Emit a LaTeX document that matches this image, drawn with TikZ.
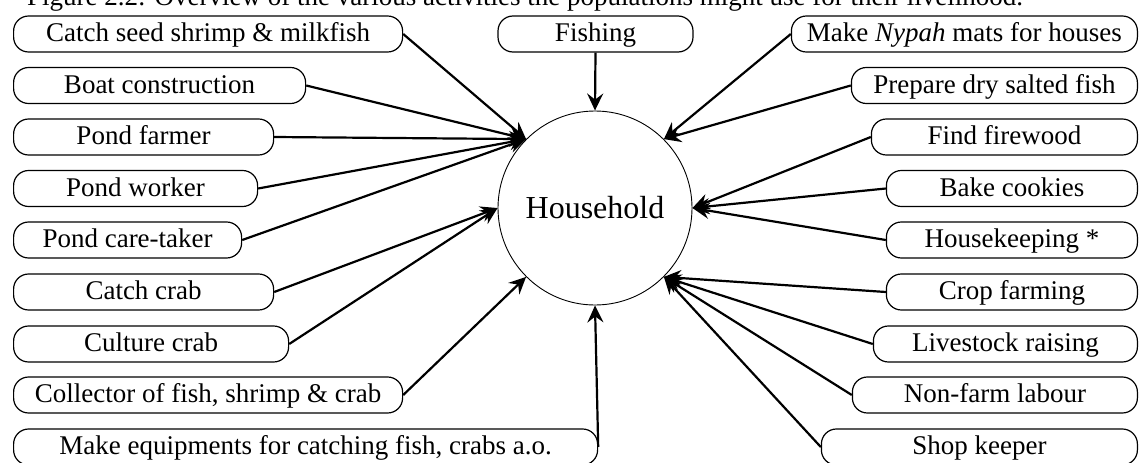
\documentclass[tikz,border=0pt]{standalone}
\usepackage{fontspec}
\setmainfont{Liberation Serif}
\usetikzlibrary{arrows.meta}

\begin{document}
\begin{tikzpicture}[x=1pt,y=-1pt,
    act/.style={draw, line width=1.2pt, rounded corners=15pt, minimum height=36pt,
        inner sep=0pt, text height=21pt, text depth=6pt,
        font=\fontsize{27pt}{32pt}\selectfont},
    feed/.style={-{Stealth[length=17pt,width=16pt,inset=6pt]}, line width=2.2pt}]
    \useasboundingbox (0,0) rectangle (1141,463);

    % caption, cut off by the top of the page
    \node[anchor=base west, inner sep=0pt, font=\fontsize{27pt}{32pt}\selectfont] (caption) at (27,5.5)
        {Figure 2.2: Overview of the various activities the populations might use for their livelihood.};

    \node[draw, circle, line width=0.9pt, minimum size=194pt, inner sep=0pt,
        font=\fontsize{32pt}{38pt}\selectfont] (hh) at (595,208) {Household};

    % left column
    \node[act, anchor=west, minimum width=389pt] (seed) at (13,34) {Catch seed shrimp \& milkfish};
    \node[act, anchor=west, minimum width=292pt] (boat) at (13,85.5) {Boat construction};
    \node[act, anchor=west, minimum width=260pt] (farmer) at (13,137) {Pond farmer};
    \node[act, anchor=west, minimum width=244pt] (worker) at (13,188.5) {Pond worker};
    \node[act, anchor=west, minimum width=228pt] (caretaker) at (13,240) {Pond care-taker};
    \node[act, anchor=west, minimum width=260pt] (catchcrab) at (13,292) {Catch crab};
    \node[act, anchor=west, minimum width=275pt] (culturecrab) at (13,344) {Culture crab};
    \node[act, anchor=west, minimum width=389pt] (collector) at (13,395) {Collector of fish, shrimp \& crab};
    \node[act, anchor=west, minimum width=584pt] (equip) at (13,447) {Make equipments for catching fish, crabs a.o.};

    % top
    \node[act, minimum width=195pt] (fishing) at (595.5,34) {Fishing};

    % right column
    \node[act, anchor=east, minimum width=346pt] (nypah) at (1138,34) {Make \textit{Nypah} mats for houses};
    \node[act, anchor=east, minimum width=286pt] (dryfish) at (1138,85.5) {Prepare dry salted fish};
    \node[act, anchor=east, minimum width=266pt] (firewood) at (1138,137) {Find firewood};
    \node[act, anchor=east, minimum width=251pt] (cookies) at (1138,188.5) {Bake cookies};
    \node[act, anchor=east, minimum width=251pt] (housekeep) at (1138,240) {Housekeeping *};
    \node[act, anchor=east, minimum width=251pt] (crop) at (1138,292) {Crop farming};
    \node[act, anchor=east, minimum width=264pt] (livestock) at (1138,344) {Livestock raising};
    \node[act, anchor=east, minimum width=285pt] (nonfarm) at (1138,395) {Non-farm labour};
    \node[act, anchor=east, minimum width=316pt] (shop) at (1138,447) {Shop keeper};

    % arrows into the household
    \draw[feed] (seed.east) -- (hh.135);
    \draw[feed] (boat.east) -- (hh.135);
    \draw[feed] (farmer.east) -- (hh.135);
    \draw[feed] (worker.east) -- (hh.135);
    \draw[feed] (caretaker.east) -- (hh.135);
    \draw[feed] (catchcrab.east) -- (hh.180);
    \draw[feed] (culturecrab.east) -- (hh.180);
    \draw[feed] (collector.east) -- (hh.225);
    \draw[feed] (equip.east) -- (hh.south);
    \draw[feed] (fishing.south) -- (hh.north);

    \draw[feed] (nypah.west) -- (hh.45);
    \draw[feed] (dryfish.west) -- (hh.45);
    \draw[feed] (firewood.west) -- (hh.0);
    \draw[feed] (cookies.west) -- (hh.0);
    \draw[feed] (housekeep.west) -- (hh.0);
    \draw[feed] (crop.west) -- (hh.315);
    \draw[feed] (livestock.west) -- (hh.315);
    \draw[feed] (nonfarm.west) -- (hh.315);
    \draw[feed] (shop.west) -- (hh.315);
\end{tikzpicture}
\end{document}
